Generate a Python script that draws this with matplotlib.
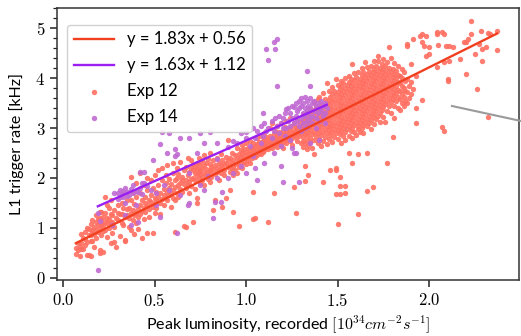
import numpy as np
import matplotlib
matplotlib.use("Agg")
import matplotlib.pyplot as plt
from matplotlib.ticker import MultipleLocator, FixedLocator, FuncFormatter, NullLocator
from matplotlib.lines import Line2D

# ---------------- data ----------------
fit12_slope, fit12_icpt = 1.83, 0.56
fit14_slope, fit14_icpt = 1.63, 1.12
series_names = ["Exp 12", "Exp 14"]
x_ticks = [0.0, 0.5, 1.0, 1.5, 2.0]
y_ticks = [0, 1, 2, 3, 4, 5]

# Exp 12: columns of (x, [y values])
exp12_cols = [
    (0.07, [0.48, 0.60]), (0.08, [0.55, 0.70]), (0.09, [0.62, 0.44]),
    (0.10, [0.70, 0.88, 0.58]), (0.11, [0.58, 0.80]), (0.12, [0.78, 0.92, 0.66]),
    (0.13, [0.45, 1.00, 0.72]), (0.14, [0.45, 0.86, 0.98]), (0.15, [0.44, 0.85, 1.08, 0.74]),
    (0.16, [0.96, 0.74, 1.15, 0.90]), (0.17, [1.02, 0.88, 0.62]), (0.18, [1.12, 0.80, 0.96, 1.25]),
    (0.19, [1.05, 0.92, 1.18]), (0.20, [1.20, 0.50, 1.00, 0.55, 1.32]), (0.21, [0.86, 1.15, 1.32, 1.05]),
    (0.22, [1.22, 0.52, 1.06, 0.94]), (0.23, [0.95, 1.30, 1.62, 1.12]), (0.24, [1.10, 0.82, 1.45, 1.20]),
    (0.25, [1.18, 1.40, 1.00]), (0.26, [1.10, 0.70, 1.55, 1.28]), (0.27, [0.90, 1.25, 1.12]),
    (0.28, [1.02, 1.35, 0.72]), (0.29, [0.62, 1.20]), (0.30, [1.15, 1.45, 1.30]),
    (0.31, [0.84, 1.28]), (0.32, [1.28, 1.10, 1.50]), (0.33, [1.05, 1.40]),
    (0.34, [0.74, 0.76, 1.22]), (0.35, [1.26, 1.55, 1.38]),
    (0.36, [1.20, 1.02, 1.40]), (0.37, [1.30, 0.95, 2.02, 1.55]), (0.38, [1.15, 1.35, 1.72]),
    (0.39, [1.25, 0.88, 1.48]), (0.40, [1.30, 1.10, 1.62, 1.90]), (0.41, [1.38, 1.22, 0.98]),
    (0.42, [1.45, 1.28, 1.70, 2.10]), (0.43, [0.80, 1.34, 1.55]), (0.44, [1.40, 1.18, 1.85]),
    (0.45, [1.50, 1.32, 1.62]), (0.46, [0.90, 1.45, 1.75, 2.00]), (0.47, [1.38, 1.56, 1.22]),
    (0.48, [1.52, 1.66, 1.95]), (0.49, [0.90, 1.42, 1.80]), (0.50, [1.48, 1.60, 1.30, 2.05]),
    (0.51, [1.55, 1.72, 1.40]), (0.52, [1.62, 1.85, 2.15]), (0.53, [1.50, 1.70, 1.28]),
    (0.54, [1.58, 1.95, 2.20]), (0.55, [1.66, 1.78, 1.45]), (0.56, [1.60, 1.90, 2.05]),
    (0.57, [1.72, 1.55, 2.25]), (0.58, [1.80, 1.65, 1.98]), (0.59, [1.70, 1.88, 1.42]),
    (0.60, [1.75, 2.10, 1.60, 2.30]), (0.61, [1.82, 1.95, 1.55, 0.92]), (0.62, [1.70, 2.00, 2.20]),
    (0.63, [1.85, 1.62, 2.08]), (0.64, [1.90, 1.78, 2.32]), (0.65, [1.72, 2.02, 1.95]),
    (0.66, [1.04, 1.88, 2.15]), (0.67, [1.02, 1.95, 2.22, 1.80]), (0.68, [1.85, 2.05, 2.40]),
    (0.69, [1.92, 2.12, 1.70]), (0.70, [1.98, 2.20, 1.84, 2.35]), (0.71, [1.12, 2.00, 2.15, 2.28]),
    (0.72, [1.95, 2.10, 2.22, 1.78]), (0.73, [1.50, 1.60, 2.05, 2.18, 2.30]), (0.74, [2.00, 2.12, 2.25, 2.40]),
    (0.75, [1.90, 2.08, 2.16, 2.32]), (0.76, [2.02, 2.20, 2.35, 1.95]), (0.77, [2.10, 2.25, 1.85, 2.45]),
    (0.78, [2.05, 2.18, 2.30]), (0.79, [1.98, 2.12, 2.38]), (0.80, [2.15, 2.28, 1.92, 2.50]),
    (0.81, [2.10, 2.22, 2.02]), (0.82, [1.36, 2.18, 2.35]), (0.83, [1.56, 2.08, 2.25]),
    (0.84, [2.20, 2.12, 2.40]), (0.85, [2.15, 2.30, 1.95]), (0.86, [2.25, 2.10, 2.48]),
    (0.87, [1.42, 2.20, 2.35]), (0.88, [2.28, 2.15, 2.05]), (0.89, [1.60, 2.30, 2.42]),
    (0.90, [2.22, 2.35, 2.77]),
    (0.91, [1.76, 2.25, 2.40, 2.12]), (0.92, [2.30, 2.18, 2.50]), (0.93, [1.32, 2.35, 2.22, 2.05]),
    (0.94, [2.28, 2.45, 2.15]), (0.95, [2.40, 2.30, 2.60, 2.10]), (0.96, [1.04, 2.35, 2.48, 2.22]),
    (0.97, [2.42, 2.30, 2.55]), (0.98, [2.38, 2.50, 2.20, 2.65]), (0.99, [2.45, 2.32, 2.58]),
    (1.00, [2.40, 2.52, 2.28, 2.70]), (1.01, [2.48, 2.36, 2.60]), (1.02, [2.44, 2.55, 2.30, 2.75]),
    (1.03, [2.50, 2.62, 2.40]), (1.04, [1.18, 1.72, 2.48, 2.58, 2.70]), (1.05, [1.20, 2.52, 2.64, 2.42]),
    (1.06, [2.55, 2.68, 2.45, 2.80]), (1.07, [2.60, 2.50, 2.72]), (1.08, [2.58, 2.66, 2.48, 2.85]),
    (1.09, [2.62, 2.74, 2.52]), (1.10, [2.65, 2.55, 2.78, 2.90]), (1.11, [2.60, 2.70, 2.82]),
    (1.12, [1.12, 2.68, 2.58, 2.76]), (1.13, [2.72, 2.62, 2.85, 3.00]), (1.14, [3.10, 2.70, 2.80, 2.60]),
    (1.15, [1.70, 2.75, 2.66, 2.88]), (1.16, [2.78, 2.68, 2.95]), (1.17, [2.72, 2.85, 2.62, 3.05]),
    (1.18, [2.80, 2.70, 2.92]), (1.19, [2.76, 2.88, 2.66, 3.10]), (1.20, [2.82, 2.72, 2.95, 2.60]),
    (1.21, [2.86, 2.76, 3.02]), (1.22, [2.80, 2.92, 2.70, 3.15]), (1.23, [2.88, 2.78, 3.00]),
    (1.24, [2.84, 2.96, 2.74, 3.20]), (1.25, [2.90, 2.80, 3.05, 2.65]), (1.26, [1.82, 2.94, 2.86, 3.10]),
    (1.27, [1.30, 2.92, 2.82, 3.02]), (1.28, [2.98, 2.88, 3.15, 2.75]), (1.29, [2.95, 3.05, 2.85]),
    (1.30, [3.00, 2.90, 3.12, 2.70]),
    (1.31, [2.62, 2.74, 2.83, 2.95, 3.04, 3.16, 3.28]),
    (1.32, [1.94, 2.23, 2.70, 2.88, 2.99, 3.10, 3.22]),
    (1.33, [2.58, 2.77, 2.86, 3.02, 3.13, 3.30]),
    (1.34, [2.06, 2.66, 2.92, 3.07, 3.19]),
    (1.35, [2.72, 2.81, 2.97, 3.11, 3.24, 3.40]),
    (1.36, [2.60, 2.88, 3.03, 3.16, 3.31]),
    (1.37, [2.47, 2.76, 2.93, 3.08, 3.21, 3.36, 3.52]),
    (1.38, [2.84, 2.99, 3.14, 3.27, 3.45]),
    (1.39, [2.70, 2.91, 3.05, 3.19, 3.33, 3.58]),
    (1.40, [2.79, 2.96, 3.10, 3.25, 3.40, 3.62]),
    (1.41, [2.64, 2.87, 3.02, 3.17, 3.31, 3.49]),
    (1.42, [1.92, 2.75, 2.93, 3.08, 3.22, 3.38, 3.70]),
    (1.43, [2.83, 2.99, 3.14, 3.29, 3.44, 3.58]),
    (1.44, [2.68, 2.90, 3.05, 3.19, 3.33, 3.50, 3.91]),
    (1.45, [2.78, 2.96, 3.11, 3.26, 3.40, 3.56, 3.75]),
    (1.46, [2.16, 2.86, 3.02, 3.17, 3.32, 3.47, 3.63]),
    (1.47, [2.72, 2.92, 3.07, 3.22, 3.37, 3.52, 3.68, 3.82]),
    (1.48, [2.83, 2.99, 3.13, 3.28, 3.43, 3.59, 3.74]),
    (1.49, [1.68, 2.16, 2.20, 2.90, 3.05, 3.20, 3.35, 3.50, 3.66, 3.98]),
    (1.50, [1.08, 2.79, 2.96, 3.11, 3.26, 3.41, 3.56, 3.72, 3.86]),
    (1.51, [1.68, 1.84, 2.02, 2.88, 3.02, 3.17, 3.32, 3.47, 3.62, 3.78]),
    (1.52, [2.70, 2.94, 3.08, 3.23, 3.38, 3.53, 3.69, 3.84, 3.95]),
    (1.53, [2.85, 3.00, 3.15, 3.30, 3.45, 3.60, 3.75, 3.90]),
    (1.54, [1.70, 1.84, 2.76, 2.92, 3.06, 3.21, 3.36, 3.51, 3.66, 3.81, 4.00]),
    (1.55, [2.98, 3.12, 3.27, 3.42, 3.57, 3.72, 3.87]),
    (1.56, [2.50, 2.84, 3.04, 3.18, 3.33, 3.48, 3.63, 3.78, 3.93, 4.05]),
    (1.57, [2.95, 3.10, 3.24, 3.39, 3.54, 3.69, 3.84, 3.98]),
    (1.58, [2.30, 2.80, 3.01, 3.16, 3.30, 3.45, 3.60, 3.75, 3.90, 4.28]),
    (1.59, [2.92, 3.07, 3.22, 3.36, 3.51, 3.66, 3.81, 3.96, 4.10]),
    (1.60, [2.86, 3.13, 3.28, 3.42, 3.57, 3.72, 3.87, 4.02]),
    (1.61, [1.28, 2.47, 2.98, 3.04, 3.19, 3.34, 3.48, 3.63, 3.78, 3.93, 4.12]),
    (1.62, [2.93, 3.10, 3.25, 3.40, 3.55, 3.69, 3.84, 3.99]),
    (1.63, [3.01, 3.16, 3.31, 3.46, 3.61, 3.76, 3.90, 4.06, 4.20]),
    (1.64, [2.90, 3.07, 3.22, 3.37, 3.52, 3.67, 3.82, 3.97, 4.12]),
    (1.65, [3.13, 3.28, 3.43, 3.58, 3.73, 3.88, 4.03, 4.32]),
    (1.66, [1.74, 2.50, 3.04, 3.19, 3.34, 3.49, 3.64, 3.79, 3.94, 4.09, 4.22]),
    (1.67, [3.10, 3.25, 3.40, 3.55, 3.70, 3.85, 4.00, 4.15]),
    (1.68, [2.98, 3.16, 3.31, 3.46, 3.61, 3.76, 3.91, 4.06, 4.25]),
    (1.69, [1.82, 3.22, 3.37, 3.52, 3.67, 3.82, 3.97, 4.12]),
    (1.70, [3.08, 3.28, 3.43, 3.58, 3.73, 3.88, 4.03, 4.18, 4.35]),
    (1.71, [3.19, 3.34, 3.49, 3.64, 3.79, 3.94, 4.09, 4.24]),
    (1.72, [3.25, 3.40, 3.55, 3.70, 3.85, 4.00, 4.15, 4.34, 4.44]),
    (1.73, [3.12, 3.31, 3.46, 3.61, 3.76, 3.91, 4.06, 4.21]),
    (1.74, [3.37, 3.52, 3.67, 3.82, 3.97, 4.12, 4.28]),
    (1.75, [3.22, 3.43, 3.58, 3.73, 3.88, 4.03, 4.18, 4.38]),
    (1.76, [3.13, 3.49, 3.64, 3.79, 3.94, 4.09, 4.24]),
    (1.77, [2.30, 3.35, 3.55, 3.70, 3.85, 4.00, 4.15, 4.32]),
    (1.78, [3.45, 3.61, 3.76, 3.91, 4.06, 4.21, 4.62]),
    (1.79, [3.30, 3.52, 3.67, 3.82, 3.97, 4.12, 4.40]),
    (1.80, [2.83, 3.58, 3.73, 3.88, 4.03, 4.18]),
    (1.81, [3.21, 3.45, 3.64, 3.79, 3.94, 4.09, 4.30]),
    (1.82, [3.55, 3.70, 3.85, 4.00, 4.15]),
    (1.83, [3.40, 3.62, 3.77, 3.92, 4.07, 4.25]),
    (1.84, [3.37, 3.58, 3.74, 3.90, 4.05]),
    (1.85, [3.50, 3.68, 3.84, 4.00, 4.18]),
    (1.86, [3.45, 3.62, 3.80, 4.12]),
    (1.87, [3.55, 3.75, 3.95]),
    (1.88, [3.50, 3.72, 3.98, 4.64, 4.68]),
    (1.89, [3.60, 3.85]), (1.90, [4.28, 3.68, 3.92]), (1.91, [4.78, 3.78]),
    (1.93, [3.41, 3.11, 4.05]), (1.95, [4.84]), (1.96, [4.72, 4.88, 3.57]),
    (1.97, [4.64]), (1.98, [4.44, 4.84]), (2.00, [4.62, 4.48]),
    (2.04, [4.88, 4.92, 4.22]), (2.05, [4.66]), (2.07, [4.92, 3.03]),
    (2.08, [4.88, 4.32, 2.95]), (2.09, [4.64]), (2.10, [3.98, 3.94]),
    (2.11, [4.34, 4.64]), (2.13, [4.62]), (2.17, [4.38]), (2.19, [4.72]),
    (2.20, [4.72, 4.08]), (2.21, [4.78]), (2.23, [5.14, 4.88]), (2.25, [4.48]),
    (2.26, [3.78]), (2.27, [4.68]), (2.28, [4.94]), (2.29, [4.34, 4.58]),
    (2.31, [4.62]), (2.32, [3.23, 4.90]), (2.33, [4.88]), (2.37, [4.94, 4.56]),
]

# Exp 14
exp14_cols = [
    (0.19, [0.16, 1.30]), (0.20, [1.14]), (0.27, [1.06]), (0.28, [1.70]),
    (0.30, [1.70, 1.58]), (0.31, [1.62, 1.76]), (0.32, [1.68]), (0.33, [1.62, 1.74]),
    (0.34, [1.50, 1.26, 1.80]), (0.35, [1.63, 1.72]), (0.36, [1.66]), (0.37, [1.06, 1.78]),
    (0.38, [1.86, 1.70]), (0.40, [1.46, 1.74]), (0.41, [1.12, 1.72]), (0.42, [2.12, 1.80]),
    (0.43, [1.90, 1.68]), (0.44, [2.12, 1.90]), (0.46, [1.84]), (0.48, [1.76]),
    (0.49, [2.36]), (0.51, [1.70, 1.46]), (0.53, [1.22, 2.67]), (0.54, [2.93]),
    (0.55, [1.86]), (0.57, [2.50]), (0.58, [2.91, 1.76]), (0.61, [2.43, 2.57]),
    (0.62, [0.90, 2.47]), (0.64, [2.81, 1.66]), (0.68, [1.46]), (0.69, [2.81, 2.10, 1.50]),
    (0.73, [2.50]), (0.75, [2.91, 1.86]), (0.77, [2.70, 1.76]), (0.79, [2.03]),
    (0.80, [2.93]), (0.82, [1.20]), (0.83, [1.52]), (0.84, [2.71, 2.37, 2.00]),
    (0.86, [1.52]), (0.87, [1.72]), (0.90, [2.00, 2.62]), (0.93, [2.10, 2.75]),
    (0.95, [2.70]), (0.97, [2.23, 2.90]), (1.00, [2.93, 2.10, 2.80]), (1.02, [2.64]),
    (1.04, [2.43, 3.00]), (1.05, [2.80, 2.20]), (1.06, [1.96, 2.95]), (1.08, [3.05, 2.70]),
    (1.09, [3.30, 2.85]), (1.10, [2.30, 3.10]), (1.11, [4.58, 2.95]), (1.12, [4.36, 3.00]),
    (1.14, [3.15, 2.80]), (1.15, [4.72, 2.50, 2.95]), (1.16, [4.58, 3.20]),
    (1.17, [4.78, 3.84, 3.05]), (1.18, [3.25, 2.90]), (1.19, [2.63, 2.23, 3.10]),
    (1.20, [1.92, 3.20, 3.00]), (1.21, [3.30, 2.85]), (1.22, [3.00, 3.38]),
    (1.23, [3.15, 3.40]), (1.24, [2.77, 3.05, 3.30]), (1.25, [2.60, 3.20, 3.45]),
    (1.26, [3.43, 2.50, 3.10]), (1.27, [2.50, 3.25, 3.50]), (1.28, [3.15, 3.35]),
    (1.29, [1.92, 3.05, 3.40, 3.55]), (1.30, [3.20, 3.45, 3.60, 2.95]),
    (1.31, [3.10, 3.30, 3.50]), (1.32, [3.25, 3.40, 3.62, 3.00]),
    (1.33, [4.14, 3.15, 3.35, 3.55]), (1.34, [3.30, 3.45, 3.05]),
    (1.35, [3.84, 2.70, 3.20, 3.40, 3.60]), (1.36, [3.25, 3.50, 3.10]),
    (1.37, [3.35, 3.55]), (1.38, [3.20, 3.45, 3.00]), (1.39, [3.30, 3.50]),
    (1.40, [2.77, 3.40, 3.15]), (1.41, [3.35, 3.55]), (1.42, [3.25, 3.45]),
    (1.43, [3.30, 3.50, 3.10]), (1.44, [3.40]),
]


def flatten(cols):
    xs, ys = [], []
    for xv, yl in cols:
        for yv in yl:
            xs.append(xv)
            ys.append(yv)
    return np.array(xs), np.array(ys)


x12, y12 = flatten(exp12_cols)
x14, y14 = flatten(exp14_cols)

# ---------------- style ----------------
plt.rcParams["mathtext.fontset"] = "cm"
plt.rcParams["font.family"] = ["Lato", "DejaVu Sans"]

c12_pts = "#ff6f61"
c14_pts = "#c06ad2"
c12_line = "#f0401f"
c14_line = "#9a1ff0"

fig = plt.figure(figsize=(5.21, 3.36), dpi=100)
ax = fig.add_axes([57 / 521, 1 - 280 / 336, (519 - 57) / 521, (280 - 8) / 336])

ax.scatter(x12, y12, s=15, color=c12_pts, alpha=0.9, linewidths=0, label=series_names[0], zorder=2)
ax.scatter(x14, y14, s=15, color=c14_pts, alpha=0.9, linewidths=0, label=series_names[1], zorder=2)

lx12 = np.array([x12.min(), x12.max()])
lx14 = np.array([x14.min(), x14.max()])
ax.plot(lx12, fit12_slope * lx12 + fit12_icpt, color=c12_line, lw=1.7, zorder=3,
        label=f"y = {fit12_slope:.2f}x + {fit12_icpt:.2f}")
ax.plot(lx14, fit14_slope * lx14 + fit14_icpt, color=c14_line, lw=1.7, zorder=3,
        label=f"y = {fit14_slope:.2f}x + {fit14_icpt:.2f}")

ax.set_xlim(-0.033, 2.49)
ax.set_ylim(-0.05, 5.41)
ax.xaxis.set_major_locator(FixedLocator(x_ticks))
ax.yaxis.set_major_locator(FixedLocator(y_ticks))
ax.yaxis.set_minor_locator(MultipleLocator(0.2))
ax.xaxis.set_minor_locator(NullLocator())
ax.xaxis.set_major_formatter(FuncFormatter(lambda v, p: f"${v:.1f}$"))
ax.yaxis.set_major_formatter(FuncFormatter(lambda v, p: f"${v:.0f}$"))
ax.tick_params(axis="both", which="major", length=5, width=1.1, labelsize=12, color="#222222")
ax.tick_params(axis="y", which="minor", length=3, width=0.9, color="#222222")
for sp in ax.spines.values():
    sp.set_color("#333333")
    sp.set_linewidth(1.1)

ax.set_xlabel(r"Peak luminosity, recorded $[10^{34} cm^{-2} s^{-1}]$", fontsize=11.5, labelpad=4)
ax.set_ylabel("L1 trigger rate [kHz]", fontsize=11.5, labelpad=8)

handles, labels = ax.get_legend_handles_labels()
order = [2, 3, 0, 1]
leg = ax.legend([handles[i] for i in order], [labels[i] for i in order],
                loc="upper left", fontsize=12, frameon=True, fancybox=True,
                edgecolor="#cccccc", framealpha=0.9, handlelength=2.4,
                borderaxespad=0.6, labelspacing=0.6, markerscale=1.0,
                bbox_to_anchor=(0.0, 0.975))

# grey line fragment at the right edge of the figure
fig.add_artist(Line2D([452 / 521, 1.0], [1 - 106 / 336, 1 - 121 / 336],
                      transform=fig.transFigure, color="#9a9a9a", lw=1.5))

fig.savefig("out.png", dpi=100)
